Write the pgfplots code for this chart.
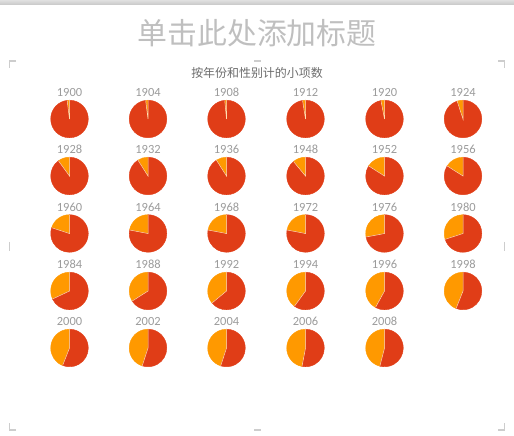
\documentclass[border=0pt]{standalone}
\usepackage{fontspec}
\setmainfont{Carlito}
\newfontfamily\cjk{Noto Sans CJK SC}
\usepackage{pgfplots}
\pgfplotsset{compat=1.18}
\usepackage{pgfplotstable}

\definecolor{male}{RGB}{224,61,23}
\definecolor{fem}{RGB}{255,153,0}
\definecolor{yeargray}{RGB}{155,155,155}
\definecolor{framegray}{RGB}{205,205,205}

% px, py: pie centre in picture pixels (y from the top); f: share of the orange slice
\pgfplotstableread{
px    py    f      year
69.5  119   0.020  1900
148   119   0.020  1904
226.5 119   0.015  1908
305.5 119   0.025  1912
384.5 119   0.030  1920
463   119   0.050  1924
69.5  176   0.100  1928
148   176   0.090  1932
226.5 176   0.090  1936
305.5 176   0.110  1948
384.5 176   0.160  1952
463   176   0.160  1956
69.5  233.5 0.200  1960
148   233.5 0.220  1964
226.5 233.5 0.220  1968
305.5 233.5 0.220  1972
384.5 233.5 0.280  1976
463   233.5 0.300  1980
69.5  291   0.320  1984
148   291   0.340  1988
226.5 291   0.360  1992
305.5 291   0.400  1994
384.5 291   0.420  1996
463   291   0.440  1998
69.5  348   0.440  2000
148   348   0.450  2002
226.5 348   0.450  2004
305.5 348   0.470  2006
384.5 348   0.460  2008
}\pies

\begin{document}
\begin{tikzpicture}
\begin{axis}[
    name=ax,
    scale only axis,
    width=514bp, height=436bp,
    xmin=0, xmax=514, ymin=0, ymax=436,
    hide axis, clip=false,
]
    % pies with their year above
    \addplot[
        scatter, only marks, mark=*, mark size=0pt,
        visualization depends on={\thisrow{f} \as \fem},
        visualization depends on={\thisrow{year} \as \yr},
        scatter/@pre marker code/.code={%
            \pgfmathsetmacro\ea{90+360*\fem}%
            \pgfmathsetmacro\eb{\ea-360}%
            \fill[fem] (0,0) -- (90:18.8bp) arc[start angle=90, end angle=\ea, radius=18.8bp] -- cycle;
            \fill[male] (0,0) -- (90:18.8bp) arc[start angle=90, end angle=\eb, radius=18.8bp] -- cycle;
            \draw[white!70!fem, line width=0.5bp] (\ea:18.8bp) -- (0,0) -- (90:18.8bp);
            \node[anchor=center, inner sep=0pt, text=yeargray,
                  font=\fontsize{12.5}{13}\selectfont] at (0,26.5bp)
                {\pgfmathprintnumber[assume math mode=true, 1000 sep={}, fixed, precision=0]{\yr}};
        },
        scatter/@post marker code/.code={},
    ] table[x=px, y expr=436-\thisrow{py}] {\pies};

    % titles
    \node[text=black!25, font=\cjk\fontsize{30}{31}\selectfont]
        at (axis cs:257,403) {单击此处添加标题};
    \node[text=black!58, font=\cjk\fontsize{12}{13}\selectfont]
        at (axis cs:257,363) {按年份和性别计的小项数};

    % top bar
    \shade[top color=black!12, bottom color=black!22, draw=none]
        (axis cs:0,436) rectangle (axis cs:514,431);

    % frame marks
    \draw[framegray, line width=1.3bp]
        (axis cs:16,375) -- (axis cs:9.5,375) -- (axis cs:9.5,368)
        (axis cs:498,375) -- (axis cs:504.5,375) -- (axis cs:504.5,368)
        (axis cs:16,6) -- (axis cs:9.5,6) -- (axis cs:9.5,13)
        (axis cs:498,6) -- (axis cs:504.5,6) -- (axis cs:504.5,13)
        (axis cs:254,375) -- (axis cs:261,375)
        (axis cs:254,6) -- (axis cs:261,6)
        (axis cs:9.5,194) -- (axis cs:9.5,185)
        (axis cs:504.5,194) -- (axis cs:504.5,185);
\end{axis}
\pgfresetboundingbox
\path (ax.south west) rectangle (ax.north east);
\end{tikzpicture}
\end{document}
